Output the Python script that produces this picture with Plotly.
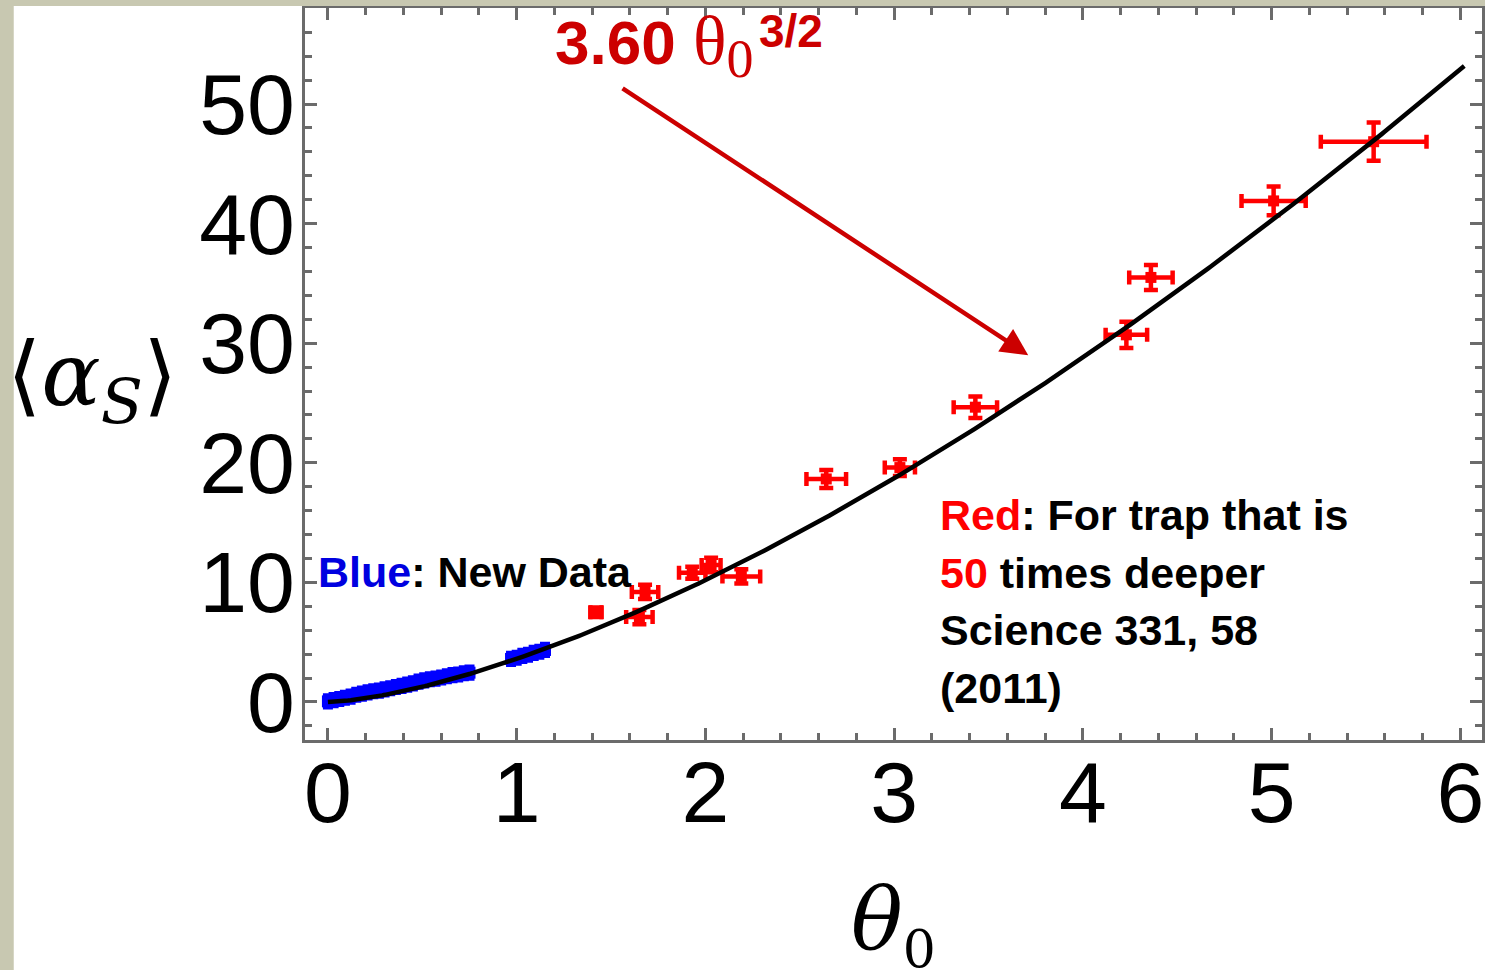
import numpy as np
import plotly.graph_objects as go

# Blue: new data (theta_0, <alpha_S>)
blue_theta = [0.00, 0.03, 0.06, 0.09, 0.12, 0.15, 0.18, 0.21, 0.24, 0.27, 0.30, 0.33, 0.36,
              0.39, 0.42, 0.45, 0.48, 0.51, 0.54, 0.57, 0.60, 0.63, 0.66, 0.69, 0.72, 0.75,
              0.97, 1.00, 1.03, 1.06, 1.09, 1.12, 1.15]
blue_alpha = [0.05, 0.15, 0.25, 0.35, 0.45, 0.60, 0.70, 0.80, 0.90, 0.95, 1.05, 1.15, 1.25,
              1.35, 1.45, 1.55, 1.70, 1.80, 1.90, 1.95, 2.05, 2.15, 2.25, 2.30, 2.40, 2.45,
              3.60, 3.70, 3.85, 3.95, 4.10, 4.20, 4.35]

# Red: trap 50 times deeper, Science 331, 58 (2011)
red_theta = [1.42, 1.65, 1.68, 1.93, 2.03, 2.19, 2.64, 3.03, 3.43, 4.23, 4.36, 5.01, 5.54]
red_alpha = [7.5, 7.1, 9.2, 10.8, 11.45, 10.5, 18.65, 19.6, 24.65, 30.7, 35.5, 41.9, 46.85]
red_theta_err = [0.03, 0.07, 0.07, 0.07, 0.05, 0.10, 0.105, 0.08, 0.115, 0.11, 0.115, 0.17, 0.28]
red_alpha_err = [0.4, 0.6, 0.6, 0.5, 0.6, 0.6, 0.75, 0.7, 0.9, 1.1, 1.05, 1.2, 1.6]

# fit  <alpha_S> = 3.60 * theta_0^(3/2)
fit_coef = 3.60
fit_exp = 1.5

x_ticks = [0, 1, 2, 3, 4, 5, 6]
y_ticks = [0, 10, 20, 30, 40, 50]

W, H = 1485, 970
ML, MR, MT, MB = 305, 0, 8, 230
PW, PH = W - ML - MR, H - MT - MB


def px(xp):
    return (xp - ML) / PW


def py(yp):
    return (H - MB - yp) / PH


fit_theta = np.linspace(0, 6.02, 400)
fit_alpha = fit_coef * fit_theta ** fit_exp

fig = go.Figure()

fig.add_trace(go.Scatter(
    x=blue_theta, y=blue_alpha, mode="markers",
    marker=dict(symbol="square", size=12, color="#0000ff", line=dict(width=0)),
    error_y=dict(type="constant", value=0.55, color="#0000ff", thickness=3, width=5),
    hoverinfo="skip", showlegend=False,
))

fig.add_trace(go.Scatter(
    x=red_theta, y=red_alpha, mode="markers",
    marker=dict(symbol="square", size=11, color="#ff0000", line=dict(width=0)),
    error_x=dict(type="data", array=red_theta_err, color="#ff0000", thickness=4.5, width=7),
    error_y=dict(type="data", array=red_alpha_err, color="#ff0000", thickness=4.5, width=7),
    hoverinfo="skip", showlegend=False,
))

fig.add_trace(go.Scatter(
    x=fit_theta, y=fit_alpha, mode="lines",
    line=dict(color="black", width=4.5),
    hoverinfo="skip", showlegend=False,
))

frame = "#6b6b6b"
tick_font = dict(family="Liberation Sans, Arial, sans-serif", size=86, color="black")
common = dict(
    showline=True, linecolor=frame, linewidth=3, mirror="ticks",
    ticks="inside", ticklen=12, tickwidth=3, tickcolor=frame,
    showgrid=False, zeroline=False, tickfont=tick_font,
)

fig.update_xaxes(
    range=[-0.1215, 6.114], tickmode="array", tickvals=x_ticks,
    ticktext=[str(v) for v in x_ticks],
    minor=dict(dtick=0.2, tick0=0, ticks="inside", ticklen=7, tickwidth=3,
               tickcolor=frame, showgrid=False),
    ticklabelstandoff=-24,
    **common,
)
fig.update_yaxes(
    range=[-3.18, 58.03], tickmode="array", tickvals=y_ticks,
    ticktext=[str(v) for v in y_ticks],
    minor=dict(dtick=2, tick0=0, ticks="inside", ticklen=7, tickwidth=3,
               tickcolor=frame, showgrid=False),
    ticklabelstandoff=-10,
    **common,
)

bold = dict(family="Liberation Sans, Arial, sans-serif", size=43, color="black", weight="bold")
dark_red = "#cc0000"
sans = "Liberation Sans, Arial, sans-serif"
serif = "DejaVu Serif, Liberation Serif, serif"

annotations = [
    # fit label: coefficient and base
    dict(x=px(554), y=py(46), xref="paper", yref="paper", xanchor="left", yanchor="middle",
         showarrow=False,
         text=("<b>3.60</b> <span style='font-family:Liberation Serif;font-size:70px'>θ</span>"
               "<sub><span style='font-family:Liberation Serif;font-size:54px'>0</span></sub>"),
         font=dict(family=sans, size=62, color=dark_red)),
    # fit label: exponent
    dict(x=px(758), y=py(31), xref="paper", yref="paper", xanchor="left", yanchor="middle",
         showarrow=False, text="<b>3/2</b>",
         font=dict(family=sans, size=46, color=dark_red)),
    # arrow from the fit label to the curve
    dict(x=3.71, y=29.0, xref="x", yref="y", ax=1.553, ay=51.4, axref="x", ayref="y",
         text="", showarrow=True, arrowhead=2, arrowsize=1.2, arrowwidth=4.5,
         arrowcolor=dark_red, standoff=0),
    # notes
    dict(x=px(316), y=py(572), xref="paper", yref="paper", xanchor="left", yanchor="middle",
         showarrow=False, text="<span style='color:#0000e0'>Blue</span>: New Data", font=bold),
    dict(x=px(940), y=py(515), xref="paper", yref="paper", xanchor="left", yanchor="middle",
         showarrow=False, text="<span style='color:#ff0000'>Red</span>: For trap that is",
         font=bold),
    dict(x=px(940), y=py(573), xref="paper", yref="paper", xanchor="left", yanchor="middle",
         showarrow=False, text="<span style='color:#ff0000'>50</span> times deeper", font=bold),
    dict(x=px(940), y=py(630), xref="paper", yref="paper", xanchor="left", yanchor="middle",
         showarrow=False, text="Science 331, 58", font=bold),
    dict(x=px(940), y=py(688), xref="paper", yref="paper", xanchor="left", yanchor="middle",
         showarrow=False, text="(2011)", font=bold),
    # axis titles
    dict(x=px(4), y=py(380), xref="paper", yref="paper", xanchor="left", yanchor="middle",
         showarrow=False, text="⟨<i>α</i><sub><i>S</i></sub>⟩",
         font=dict(family=serif, size=88, color="black")),
    dict(x=px(895), y=py(924), xref="paper", yref="paper", xanchor="center", yanchor="middle",
         showarrow=False,
         text="<i>θ</i><sub><span style='font-size:52px'>0</span></sub>",
         font=dict(family=serif, size=86, color="black")),
]

beige = "#c8c8b1"
shapes = [
    dict(type="rect", xref="paper", yref="paper", x0=px(-5), x1=px(13), y0=py(975), y1=py(-5),
         fillcolor=beige, line=dict(width=0), layer="above"),
    dict(type="rect", xref="paper", yref="paper", x0=px(-5), x1=px(1490), y0=py(6), y1=py(-5),
         fillcolor=beige, line=dict(width=0), layer="above"),
]

fig.update_layout(
    width=W, height=H, autosize=False,
    margin=dict(l=ML, r=MR, t=MT, b=MB, pad=0),
    paper_bgcolor="white", plot_bgcolor="white",
    annotations=annotations, shapes=shapes,
    showlegend=False,
)

fig.write_html("out.html", config={"displayModeBar": False})
